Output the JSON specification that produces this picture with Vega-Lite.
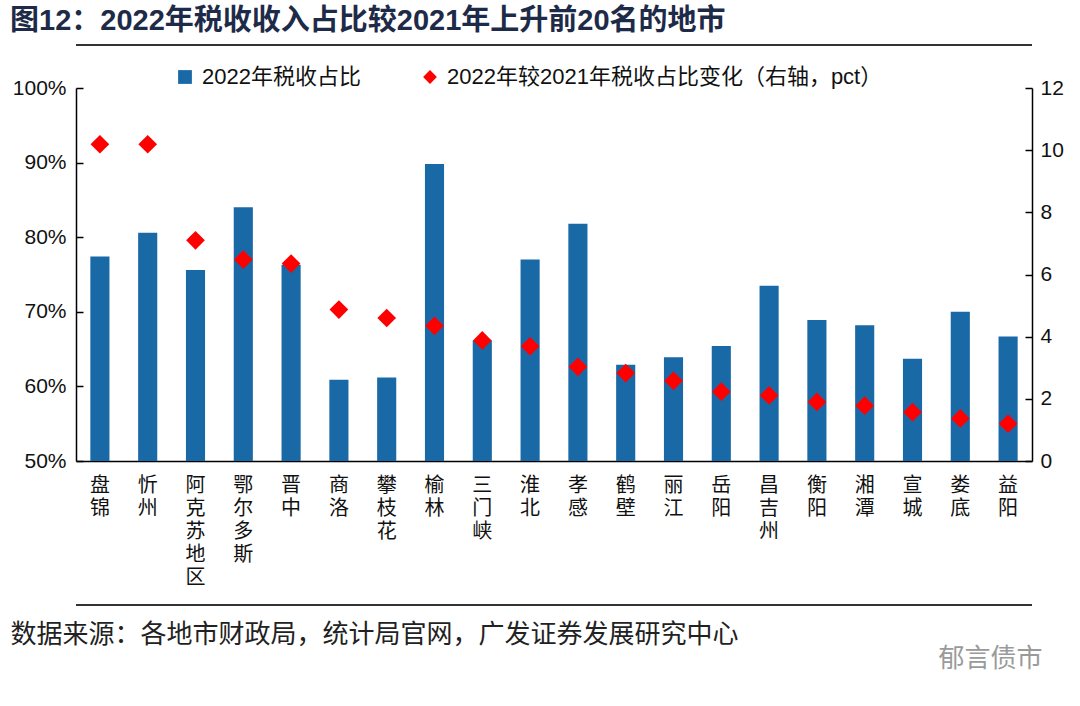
{
  "$schema": "https://vega.github.io/schema/vega-lite/v6.json",
  "width": 956,
  "height": 373,
  "autosize": {"type": "none"},
  "padding": {"left": 76, "top": 88, "right": 48, "bottom": 245},
  "background": "white",
  "config": {
    "view": {"stroke": null},
    "font": "Liberation Sans, Noto Sans CJK SC",
    "axis": {
      "grid": false,
      "domainColor": "#000",
      "domainWidth": 1.5,
      "tickColor": "#000",
      "tickWidth": 1.5,
      "labelColor": "#111",
      "labelFont": "Liberation Sans, Noto Sans CJK SC"
    }
  },
  "title": {
    "text": "图12：2022年税收收入占比较2021年上升前20名的地市",
    "anchor": "start",
    "fontSize": 29,
    "fontWeight": "bold",
    "color": "#1E2B48",
    "font": "Liberation Sans, Noto Sans CJK SC",
    "offset": 8
  },
  "data": {
    "values": [
      {"city": "盘锦", "share": 77.4, "change": 10.19},
      {"city": "忻州", "share": 80.6, "change": 10.19},
      {"city": "阿克苏地区", "share": 75.6, "change": 7.10},
      {"city": "鄂尔多斯", "share": 84.0, "change": 6.48},
      {"city": "晋中", "share": 76.3, "change": 6.35},
      {"city": "商洛", "share": 60.9, "change": 4.87},
      {"city": "攀枝花", "share": 61.2, "change": 4.60},
      {"city": "榆林", "share": 89.8, "change": 4.35},
      {"city": "三门峡", "share": 66.2, "change": 3.88},
      {"city": "淮北", "share": 77.0, "change": 3.69},
      {"city": "孝感", "share": 81.8, "change": 3.03},
      {"city": "鹤壁", "share": 62.9, "change": 2.83},
      {"city": "丽江", "share": 63.9, "change": 2.58},
      {"city": "岳阳", "share": 65.4, "change": 2.23},
      {"city": "昌吉州", "share": 73.5, "change": 2.11},
      {"city": "衡阳", "share": 68.9, "change": 1.90},
      {"city": "湘潭", "share": 68.2, "change": 1.78},
      {"city": "宣城", "share": 63.7, "change": 1.57},
      {"city": "娄底", "share": 70.0, "change": 1.37},
      {"city": "益阳", "share": 66.7, "change": 1.20}
    ]
  },
  "layer": [
    {
      "mark": {"type": "bar", "width": {"band": 0.4}},
      "encoding": {
        "x": {
          "field": "city",
          "type": "nominal",
          "sort": null,
          "scale": {"paddingInner": 0, "paddingOuter": 0},
          "axis": {
            "title": "数据来源：各地市财政局，统计局官网，广发证券发展研究中心",
            "ticks": false,
            "labelAngle": 0,
            "labelOverlap": false,
            "labelExpr": "split(datum.label, '')",
            "labelFont": "Noto Sans CJK SC",
            "labelFontSize": 20,
            "labelLineHeight": 23,
            "labelPadding": 14,
            "labelBaseline": "top",
            "titleX": -66,
            "titleY": 173,
            "titleAlign": "left",
            "titleAnchor": "start",
            "titleBaseline": "middle",
            "titleFont": "Noto Sans CJK SC",
            "titleFontSize": 26,
            "titleFontWeight": "normal",
            "titleColor": "#222"
          }
        },
        "y": {
          "field": "share",
          "type": "quantitative",
          "scale": {"domain": [50, 100], "zero": false, "nice": false},
          "axis": {
            "title": null,
            "values": [50, 60, 70, 80, 90, 100],
            "labelExpr": "datum.value + '%'",
            "tickSize": -7,
            "labelPadding": 17,
            "labelFontSize": 21
          }
        },
        "y2": {"datum": 50},
        "color": {
          "datum": "2022年税收占比",
          "type": "nominal",
          "scale": {
            "domain": ["2022年税收占比", "2022年较2021年税收占比变化（右轴，pct）"],
            "range": ["#1A69A7", "#FF0000"]
          },
          "legend": {
            "title": null,
            "orient": "none",
            "legendX": 98,
            "legendY": -22,
            "direction": "horizontal",
            "labelFontSize": 22,
            "labelColor": "#111",
            "labelFont": "Liberation Sans, Noto Sans CJK SC",
            "symbolSize": 190,
            "symbolStrokeWidth": 0,
            "labelOffset": 6,
            "columnPadding": 58,
            "labelLimit": 600,
            "encode": {
              "symbols": {
                "update": {
                  "shape": {"signal": "datum.value === '2022年税收占比' ? 'square' : 'diamond'"}
                }
              }
            }
          }
        }
      }
    },
    {
      "mark": {"type": "point", "shape": "diamond", "filled": true, "size": 350, "opacity": 1},
      "encoding": {
        "x": {"field": "city", "type": "nominal", "sort": null},
        "y": {
          "field": "change",
          "type": "quantitative",
          "scale": {"domain": [0, 12], "nice": false},
          "axis": {
            "orient": "right",
            "title": "郁言债市",
            "values": [0, 2, 4, 6, 8, 10, 12],
            "tickSize": -7,
            "labelPadding": 15,
            "labelFontSize": 21,
            "titleAngle": 0,
            "titleX": -94,
            "titleY": 570,
            "titleAlign": "left",
            "titleBaseline": "middle",
            "titleFont": "Noto Sans CJK SC",
            "titleFontSize": 26,
            "titleFontWeight": "normal",
            "titleColor": "#9A9A9A"
          }
        },
        "color": {"datum": "2022年较2021年税收占比变化（右轴，pct）", "type": "nominal"}
      }
    },
    {
      "data": {"values": [{}]},
      "mark": {"type": "rule", "color": "#333", "strokeWidth": 2},
      "encoding": {
        "y": {"datum": 105.76, "type": "quantitative", "scale": {"domain": [50, 100], "nice": false, "zero": false}, "axis": null}
      }
    },
    {
      "data": {"values": [{}]},
      "mark": {"type": "rule", "color": "#333", "strokeWidth": 2},
      "encoding": {
        "y": {"datum": 30.7, "type": "quantitative", "scale": {"domain": [50, 100], "nice": false, "zero": false}, "axis": null}
      }
    }
  ],
  "resolve": {"scale": {"y": "independent"}}
}
